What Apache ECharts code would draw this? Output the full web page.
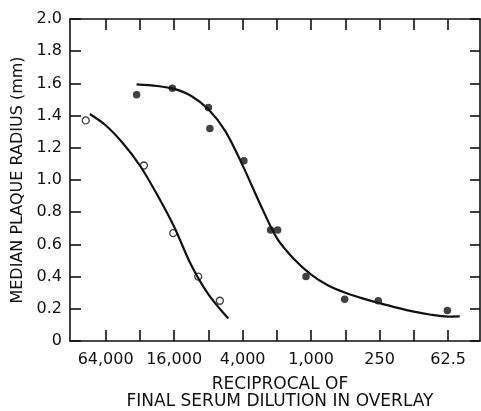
<!DOCTYPE html>
<html>
<head>
<meta charset="utf-8">
<script src="https://cdn.jsdelivr.net/npm/echarts@6.0.0/dist/echarts.min.js"></script>
<style>
  html, body { margin: 0; padding: 0; background: #fff; }
  #main { width: 481px; height: 411px; }
</style>
</head>
<body>
<div id="main"></div>
<script>
// reciprocal of final serum dilution; the axis runs in doubling steps from 62.5
var tickDilutions = [62.5, 250, 1000, 4000, 16000, 64000];
var tickLabels = ['62.5', '250', '1,000', '4,000', '16,000', '64,000'];

// open circles
var openDilution = [95700, 29500, 16300, 9830, 6340];
var openRadius = [1.37, 1.09, 0.67, 0.40, 0.25];

// filled circles
var filledDilution = [34200, 16600, 8000, 7760, 3900, 2270, 1970, 1110, 507, 257, 63.5];
var filledRadius = [1.53, 1.57, 1.45, 1.32, 1.12, 0.69, 0.69, 0.40, 0.26, 0.25, 0.19];

// hand drawn curves
var curveADilution = [88000, 64000, 45300, 32000, 22600, 16000, 11300, 8000, 5350];
var curveARadius = [1.41, 1.34, 1.23, 1.09, 0.91, 0.71, 0.47, 0.29, 0.14];

var curveBDilution = [34200, 22600, 16000, 11300, 8000, 5660, 4000, 2830, 2000, 1410, 1000, 707, 500, 354, 250, 177, 125, 88.4, 62.5, 49.4];
var curveBRadius = [1.594, 1.584, 1.566, 1.522, 1.439, 1.302, 1.091, 0.856, 0.639, 0.508, 0.413, 0.345, 0.30, 0.265, 0.235, 0.207, 0.182, 0.163, 0.152, 0.153];

// position on the axis = number of doublings above 62.5
function pos(d) { return Math.log2(d / 62.5); }
function pairs(xs, ys) {
  return xs.map(function (x, i) { return [pos(x), ys[i]]; });
}

var tickPos = [];
for (var i = 0; i <= 10; i++) tickPos.push(i);
var labelPos = tickDilutions.map(pos);

var font = 'DejaVu Sans';
var ink = '#111';

var chart = echarts.init(document.getElementById('main'), null, { renderer: 'canvas' });

var xBase = {
  type: 'value',
  min: -0.93,
  max: 11.04,
  inverse: true,
  splitLine: { show: false },
  axisLine: { show: true, onZero: false, lineStyle: { color: ink, width: 1.6 } },
  axisTick: { show: true, inside: true, length: 11, customValues: tickPos, lineStyle: { color: ink, width: 1.6 } }
};
var yBase = {
  type: 'value',
  min: 0,
  max: 2,
  interval: 0.2,
  splitLine: { show: false },
  axisLine: { show: true, onZero: false, lineStyle: { color: ink, width: 1.6 } },
  axisTick: { show: true, inside: true, length: 11, lineStyle: { color: ink, width: 1.6 } }
};

var option = {
  animation: false,
  backgroundColor: '#fff',
  grid: { left: 70, right: 1, top: 19, bottom: 70, outerBoundsMode: 'none' },
  xAxis: [
    Object.assign({}, xBase, {
      position: 'bottom',
      axisLabel: {
        customValues: labelPos,
        formatter: function (v) {
          var k = labelPos.findIndex(function (p) { return Math.abs(p - v) < 1e-6; });
          return k >= 0 ? tickLabels[k] : '';
        },
        color: ink, fontFamily: font, fontSize: 16, margin: 11
      },
      name: 'RECIPROCAL OF\nFINAL SERUM DILUTION IN OVERLAY',
      nameLocation: 'middle',
      nameGap: 35,
      nameTextStyle: { color: ink, fontFamily: font, fontSize: 17, lineHeight: 17, padding: [0, 0, 0, 10] }
    }),
    Object.assign({}, xBase, {
      position: 'top',
      axisLabel: { show: false }
    })
  ],
  yAxis: [
    Object.assign({}, yBase, {
      position: 'left',
      axisLabel: {
        formatter: function (v) { return v === 0 ? '0' : v.toFixed(1); },
        color: ink, fontFamily: font, fontSize: 16, margin: 8
      },
      name: 'MEDIAN PLAQUE RADIUS (mm)',
      nameLocation: 'middle',
      nameGap: 34,
      nameTextStyle: { color: ink, fontFamily: font, fontSize: 16 }
    }),
    Object.assign({}, yBase, {
      position: 'right',
      axisTick: { show: true, inside: true, length: 10, lineStyle: { color: ink, width: 1.6 } },
      axisLabel: { show: false }
    })
  ],
  series: [
    {
      type: 'line', smooth: 0.3, showSymbol: false, silent: true,
      lineStyle: { color: ink, width: 2.2 },
      data: pairs(curveADilution, curveARadius)
    },
    {
      type: 'line', smooth: 0.3, showSymbol: false, silent: true,
      lineStyle: { color: ink, width: 2.2 },
      data: pairs(curveBDilution, curveBRadius)
    },
    // white halos so the curves break around the points as in the figure
    {
      type: 'scatter', symbol: 'circle', symbolSize: 11, silent: true,
      itemStyle: { color: '#fff' },
      data: pairs(openDilution, openRadius)
    },
    {
      type: 'scatter', symbol: 'circle', symbolSize: 11, silent: true,
      itemStyle: { color: '#fff' },
      data: pairs(filledDilution, filledRadius)
    },
    {
      type: 'scatter', symbol: 'circle', symbolSize: 7,
      itemStyle: { color: '#fff', borderColor: ink, borderWidth: 1.3 },
      data: pairs(openDilution, openRadius)
    },
    {
      type: 'scatter', symbol: 'circle', symbolSize: 7.5,
      itemStyle: { color: ink },
      data: pairs(filledDilution, filledRadius)
    }
  ]
};

chart.setOption(option);
</script>
</body>
</html>
